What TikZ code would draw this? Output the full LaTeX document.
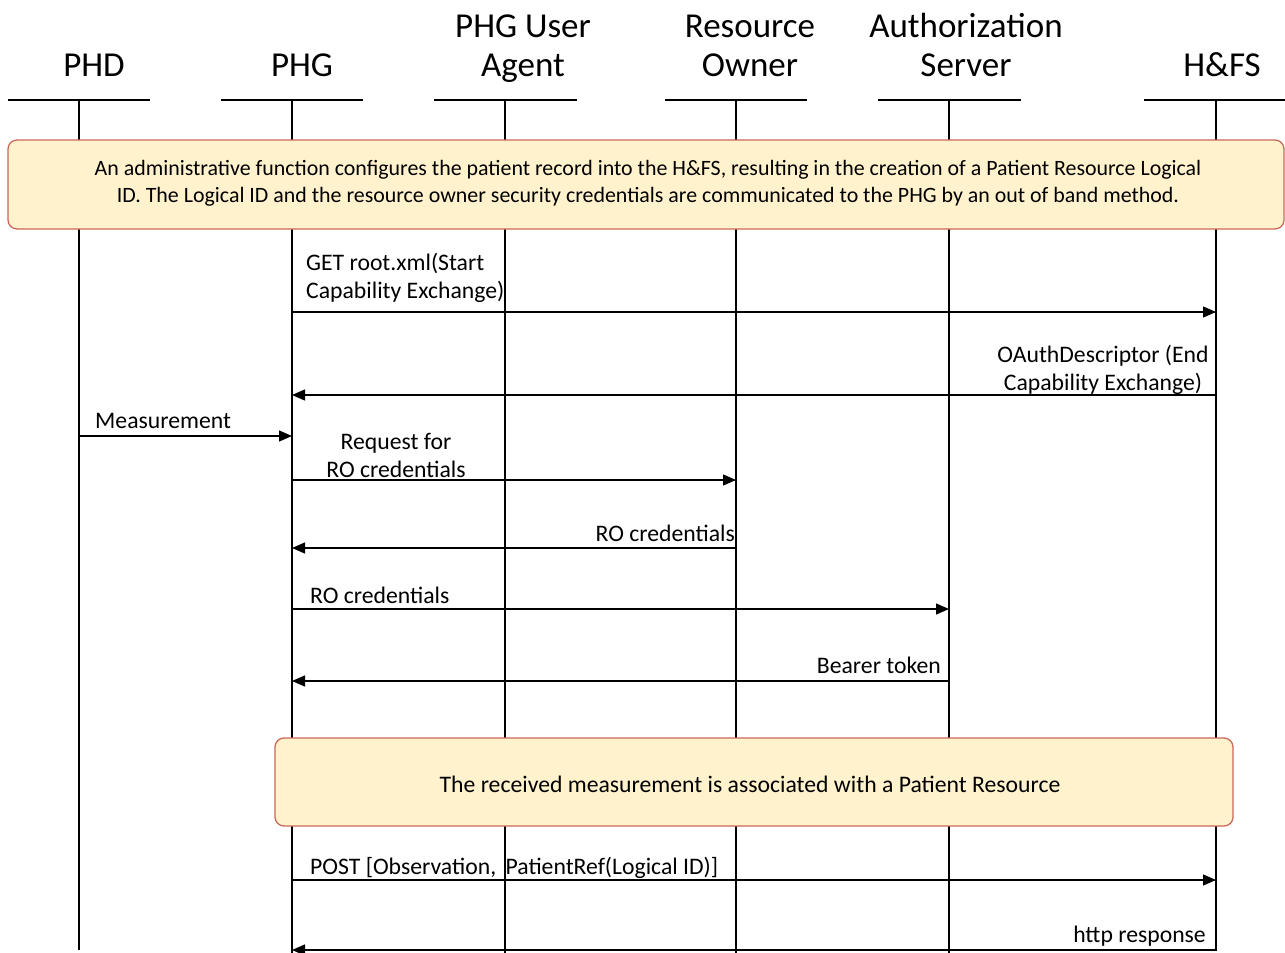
\documentclass[tikz,border=0pt]{standalone}
\usepackage{fontspec}
\setmainfont{Carlito}
\usetikzlibrary{arrows.meta}
\definecolor{notefill}{RGB}{255,242,204}
\definecolor{noteborder}{RGB}{205,105,90}
\begin{document}
\begin{tikzpicture}[x=1pt,y=-1pt,
  head/.style={font=\fontsize{35}{39}\selectfont, align=center, anchor=base, inner sep=0pt},
  bar/.style={line width=1.3pt},
  life/.style={line width=1.3pt},
  msg/.style={line width=1.3pt, -{Triangle[length=13pt,width=11pt]}},
  lbl/.style={font=\fontsize{23.7}{28}\selectfont, inner sep=0pt},
  note/.style={draw=noteborder, fill=notefill, line width=1.3pt, rounded corners=9pt},
  notetext/.style={font=\fontsize{21.9}{26.7}\selectfont, align=center, inner sep=0pt, anchor=base}
]
\useasboundingbox (0,0) rectangle (1285,953);

% participant headings (multi-line nodes sit on the baseline of their last line)
\node[head] (hphd) at (94,76) {PHD};
\node[head] (hphg) at (302,76) {PHG};
\node[head] (hua)  at (523,76) {PHG User\\Agent};
\node[head] (hro)  at (750,76) {Resource\\Owner};
\node[head] (has)  at (966,76) {Authorization\\Server};
\node[head] (hhfs) at (1222,76) {H\&FS};

% heading bars
\draw[bar] (8,100) -- (150,100);
\draw[bar] (221,100) -- (363,100);
\draw[bar] (434,100) -- (577,100);
\draw[bar] (665,100) -- (807,100);
\draw[bar] (878,100) -- (1021,100);
\draw[bar] (1144,100) -- (1285,100);

% lifeline tops and ends
\coordinate (phd) at (79,100);   \coordinate (phdE) at (79,950);
\coordinate (phg) at (292,100);  \coordinate (phgE) at (292,953);
\coordinate (ua)  at (505,100);  \coordinate (uaE)  at (505,953);
\coordinate (ro)  at (736,100);  \coordinate (roE)  at (736,953);
\coordinate (as)  at (949,100);  \coordinate (asE)  at (949,953);
\coordinate (hfs) at (1216,100); \coordinate (hfsE) at (1216,951);
\foreach \a/\b in {phd/phdE,phg/phgE,ua/uaE,ro/roE,as/asE,hfs/hfsE}
  \draw[life] (\a) -- (\b);

% notes spanning the lifelines
\draw[note] (8,140) rectangle (1284,229);
\node[notetext] (n1) at (648,202) {An administrative function configures the patient record into the H\&FS, resulting in the creation of a Patient Resource Logical\\ID. The Logical ID and the resource owner security credentials are communicated to the PHG by an out of band method.};
\draw[note] (275,738) rectangle (1233,826);
\node[notetext, font=\fontsize{23.7}{28}\selectfont] (n2) at (750,792) {The received measurement is associated with a Patient Resource};

% message rows
\coordinate (r1) at (0,312);
\coordinate (r2) at (0,395);
\coordinate (r3) at (0,436);
\coordinate (r4) at (0,480);
\coordinate (r5) at (0,548);
\coordinate (r6) at (0,609);
\coordinate (r7) at (0,681);
\coordinate (r8) at (0,880);
\coordinate (r9) at (0,950);

\draw[msg] (phg |- r1) -- (hfs |- r1);
\draw[msg] (hfs |- r2) -- (phg |- r2);
\draw[msg] (phd |- r3) -- (phg |- r3);
\draw[msg] (phg |- r4) -- (ro |- r4);
\draw[msg] (ro |- r5) -- (phg |- r5);
\draw[msg] (phg |- r6) -- (as |- r6);
\draw[msg] (as |- r7) -- (phg |- r7);
\draw[msg] (phg |- r8) -- (hfs |- r8);
\draw[msg] (hfs |- r9) -- (phg |- r9);

% message labels
\node[lbl, anchor=base west, align=left] (m1) at (306,298) {GET root.xml(Start\\Capability Exchange)};
\node[lbl, anchor=base, align=center] (m2) at (1103,390) {OAuthDescriptor (End\\Capability Exchange)};
\node[lbl, anchor=base west] (m3) at (95,428) {Measurement};
\node[lbl, anchor=base, align=center] (m4) at (396,477) {Request for\\RO credentials};
\node[lbl, anchor=base east] (m5) at (735,541) {RO credentials};
\node[lbl, anchor=base west] (m6) at (310,603) {RO credentials};
\node[lbl, anchor=base east] (m7) at (941,673) {Bearer token};
\node[lbl, anchor=base west] (m8) at (310,874) {POST [Observation,\hspace{0.4em}PatientRef(Logical ID)]};
\node[lbl, anchor=base east] (m9) at (1206,942) {http response};
\end{tikzpicture}
\end{document}
